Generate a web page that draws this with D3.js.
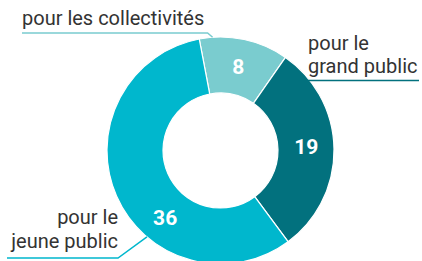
<!DOCTYPE html>
<html>
<head>
<meta charset="utf-8">
<script src="https://cdn.jsdelivr.net/npm/d3@7"></script>
<style>
  html, body { margin: 0; padding: 0; background: #fff; }
  svg { display: block; font-family: Roboto, "Noto Sans", sans-serif; }
</style>
</head>
<body>
<svg id="chart" width="422" height="261"></svg>
<script>
// values, in drawing order (clockwise)
var categories = ["pour les collectivités", "pour le grand public", "pour le jeune public"];
var values = [8, 19, 36];
var labelLines = [["pour les collectivités"], ["pour le", "grand public"], ["pour le", "jeune public"]];
var colors = ["#7acccf", "#02717e", "#00b7cd"];

var svg = d3.select("#chart");
var cx = 220.5, cy = 150.5;
var outerR = 113.5, innerR = 57.5;
var deg = Math.PI / 180;
var start = -10.8 * deg;

var pie = d3.pie().sort(null).value(function (d) { return d; })
    .startAngle(start).endAngle(start + 2 * Math.PI);
var arcs = pie(values);

var arc = d3.arc().innerRadius(innerR).outerRadius(outerR);

var g = svg.append("g").attr("transform", "translate(" + cx + "," + cy + ")");

g.selectAll("path.slice")
    .data(arcs)
    .enter().append("path")
    .attr("class", "slice")
    .attr("d", arc)
    .attr("fill", function (d, i) { return colors[i]; })
    .attr("stroke", "#fff")
    .attr("stroke-width", 1.2);

// value labels, placed at an angle/radius inside each slice
var valueSpots = [{ a: 12, r: 86 }, { a: 87, r: 86 }, { a: 219.5, r: 87 }];
g.selectAll("text.val")
    .data(arcs)
    .enter().append("text")
    .attr("class", "val")
    .attr("x", function (d, i) { return valueSpots[i].r * Math.sin(valueSpots[i].a * deg); })
    .attr("y", function (d, i) { return -valueSpots[i].r * Math.cos(valueSpots[i].a * deg); })
    .attr("dy", "0.36em")
    .attr("text-anchor", "middle")
    .attr("fill", "#fff")
    .attr("font-weight", "bold")
    .attr("font-size", 21)
    .text(function (d) { return d.value; });

// point on the outer edge at a given angle (degrees)
function edge(a) {
    return [cx + outerR * Math.sin(a * deg), cy - outerR * Math.cos(a * deg)];
}

var lineGen = d3.line();

// collectivités
var p0 = edge(-4);
svg.append("path")
    .attr("d", lineGen([[22, 33], [p0[0] - 5, 33], p0]))
    .attr("fill", "none").attr("stroke", colors[0]).attr("stroke-width", 1.5);

// grand public
var p1 = edge(52);
svg.append("path")
    .attr("d", lineGen([[p1[0] - 2, 80.5], [419, 80.5]]))
    .attr("fill", "none").attr("stroke", colors[1]).attr("stroke-width", 1.5);

// jeune public
var p2 = edge(220.4);
svg.append("path")
    .attr("d", lineGen([[7, 258], [118, 258], p2]))
    .attr("fill", "none").attr("stroke", colors[2]).attr("stroke-width", 1.5);

var labelSpots = [
    { x: 22, y: 25, anchor: "start" },
    { x: 308, y: 49.5, anchor: "start" },
    { x: 118, y: 224, anchor: "end" }
];

labelLines.forEach(function (lines, i) {
    var t = svg.append("text")
        .attr("x", labelSpots[i].x)
        .attr("y", labelSpots[i].y)
        .attr("text-anchor", labelSpots[i].anchor)
        .attr("fill", "#333")
        .attr("font-size", 20);
    lines.forEach(function (s, j) {
        t.append("tspan")
            .attr("x", labelSpots[i].x)
            .attr("dy", j === 0 ? 0 : 23.5)
            .text(s);
    });
});
</script>
</body>
</html>
